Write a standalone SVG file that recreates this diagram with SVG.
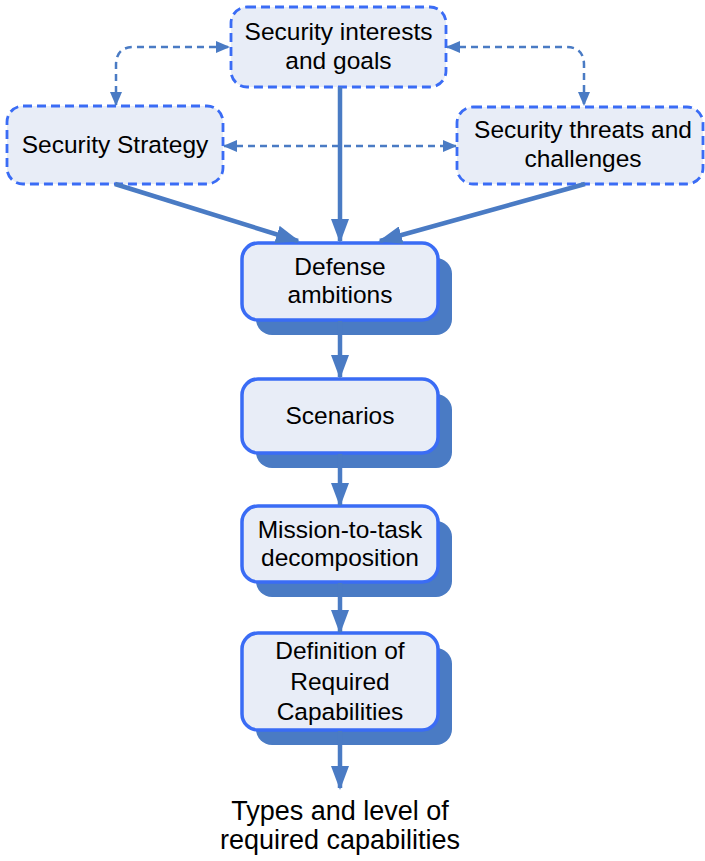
<svg xmlns="http://www.w3.org/2000/svg" width="705" height="861" viewBox="0 0 705 861">
  <style>
    .bg { fill: #ffffff; }
    .dnode { fill: #e8edf7; stroke: #3a6cf5; stroke-width: 2.8; stroke-dasharray: 9 5; }
    .snode { fill: #e8edf7; stroke: #3a6cf5; stroke-width: 3.5; }
    .shadow { fill: #4a7bc4; }
    .t { font-family: "Liberation Sans", Arial, sans-serif; font-size: 24.5px; fill: #000000; text-anchor: middle; }
    .tb { font-family: "Liberation Sans", Arial, sans-serif; font-size: 27px; fill: #000000; text-anchor: middle; }
    .dc { fill: none; stroke: #4a7bc4; stroke-width: 2.5; stroke-dasharray: 7 5; }
    .sc { fill: none; stroke: #4a7bc4; stroke-width: 4.5; }
  </style>
  <defs>
    <marker id="ah" viewBox="0 0 24 18" refX="22" refY="9" markerWidth="24" markerHeight="18" markerUnits="userSpaceOnUse" orient="auto">
      <path d="M0,0 L24,9 L0,18 Z" fill="#4a7bc4"/>
    </marker>
    <marker id="dh" viewBox="0 0 14 12" refX="13" refY="6" markerWidth="14" markerHeight="12" markerUnits="userSpaceOnUse" orient="auto-start-reverse">
      <path d="M0,0 L14,6 L0,12 Z" fill="#4a7bc4"/>
    </marker>
  </defs>
  <rect class="bg" x="0" y="0" width="705" height="861"/>

  <g id="node-interests">
    <rect class="dnode" x="231" y="7" width="215" height="80" rx="16" ry="16"/>
    <text class="t" x="338.5" y="39.5">Security interests</text>
    <text class="t" x="338.5" y="69">and goals</text>
  </g>
  <g id="node-strategy">
    <rect class="dnode" x="7" y="106" width="216" height="78" rx="16" ry="16"/>
    <text class="t" x="115" y="153">Security Strategy</text>
  </g>
  <g id="node-threats">
    <rect class="dnode" x="457" y="107" width="246" height="77" rx="16" ry="16"/>
    <text class="t" x="583" y="138">Security threats and</text>
    <text class="t" x="583" y="167">challenges</text>
  </g>
  <g id="node-defense">
    <rect class="shadow" x="256" y="258" width="196" height="77" rx="16" ry="16"/>
    <rect class="snode" x="242" y="243" width="196" height="77" rx="16" ry="16"/>
    <text class="t" x="340" y="275">Defense</text>
    <text class="t" x="340" y="303">ambitions</text>
  </g>
  <g id="node-scenarios">
    <rect class="shadow" x="256" y="394" width="196" height="74" rx="16" ry="16"/>
    <rect class="snode" x="242" y="379" width="196" height="74" rx="16" ry="16"/>
    <text class="t" x="340" y="424">Scenarios</text>
  </g>
  <g id="node-mission">
    <rect class="shadow" x="256" y="521" width="196" height="76" rx="16" ry="16"/>
    <rect class="snode" x="242" y="506" width="196" height="76" rx="16" ry="16"/>
    <text class="t" x="340" y="538">Mission-to-task</text>
    <text class="t" x="340" y="566">decomposition</text>
  </g>
  <g id="node-definition">
    <rect class="shadow" x="256" y="648" width="196" height="97" rx="16" ry="16"/>
    <rect class="snode" x="242" y="633" width="196" height="97" rx="16" ry="16"/>
    <text class="t" x="340" y="659">Definition of</text>
    <text class="t" x="340" y="690">Required</text>
    <text class="t" x="340" y="720">Capabilities</text>
  </g>
  <g id="node-output">
    <text class="tb" x="340" y="820">Types and level of</text>
    <text class="tb" x="340" y="849">required capabilities</text>
  </g>

  <g id="connectors">
    <path class="dc" d="M116,105 L116,65 Q116,47 134,47 L229,47" marker-start="url(#dh)" marker-end="url(#dh)"/>
    <path class="dc" d="M447,47 L566,47 Q584,47 584,65 L584,105" marker-start="url(#dh)" marker-end="url(#dh)"/>
    <path class="dc" d="M224,146 L456,146" marker-start="url(#dh)" marker-end="url(#dh)"/>
    <path class="sc" d="M115,184 L298,241" marker-end="url(#ah)"/>
    <path class="sc" d="M340,87 L340,241" marker-end="url(#ah)"/>
    <path class="sc" d="M585,184 L380,241" marker-end="url(#ah)"/>
    <path class="sc" d="M340,321 L340,377" marker-end="url(#ah)"/>
    <path class="sc" d="M340,454 L340,505" marker-end="url(#ah)"/>
    <path class="sc" d="M340,583 L340,632" marker-end="url(#ah)"/>
    <path class="sc" d="M340,731 L340,788" marker-end="url(#ah)"/>
  </g>
</svg>
